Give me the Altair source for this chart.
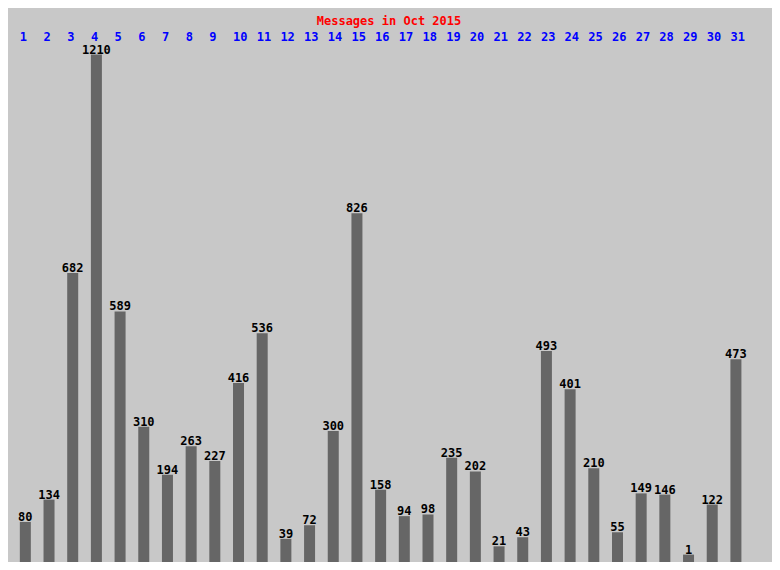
import altair as alt
import pandas as pd

days = list(range(1, 32))
messages = [80, 134, 682, 1210, 589, 310, 194, 263, 227, 416, 536, 39, 72, 300, 826,
            158, 94, 98, 235, 202, 21, 43, 493, 401, 210, 55, 149, 146, 1, 122, 473]
title_text = "Messages in Oct 2015"

df = pd.DataFrame({"day": days, "messages": messages})

W, H = 764, 554
xs = alt.Scale(domain=[0.4792, 32.3125], range=[0, W], nice=False, zero=False)
ys = alt.Scale(domain=[-16.9, 1322.5], range=[H, 0], nice=False, zero=False)
FONT = "DejaVu Sans Mono"

base = alt.Chart(df)

bars = base.mark_bar(size=11, color="#666666").encode(
    x=alt.X("day:Q", scale=xs, axis=None),
    y=alt.Y("messages:Q", scale=ys, axis=None),
    y2=alt.Y2(datum=-16.9),
)

vals = base.mark_text(font=FONT, fontWeight="bold", fontSize=12, color="#000000",
                      baseline="alphabetic", align="center", dy=-1).encode(
    x=alt.X("day:Q", scale=xs, axis=None),
    y=alt.Y("messages:Q", scale=ys, axis=None),
    text="messages:Q",
)

daylab = base.mark_text(font=FONT, fontWeight="bold", fontSize=12, color="#0000ff",
                        baseline="alphabetic", align="left", dx=-5.5).encode(
    x=alt.X("day:Q", scale=xs, axis=None),
    y=alt.value(33),
    text="day:Q",
)

title = alt.Chart(pd.DataFrame({"t": [title_text]})).mark_text(
    font=FONT, fontWeight="bold", fontSize=12, color="#ff0000",
    baseline="alphabetic", align="center").encode(
    x=alt.value(381), y=alt.value(17), text="t:N")

chart = alt.layer(bars, vals, daylab, title).properties(
    width=W, height=H,
    autosize=alt.AutoSizeParams(type="none"),
    padding=0,
    background="#c8c8c8",
).configure_view(stroke=None)

chart.save("out.html", embed_options={"renderer": "svg", "actions": False})
